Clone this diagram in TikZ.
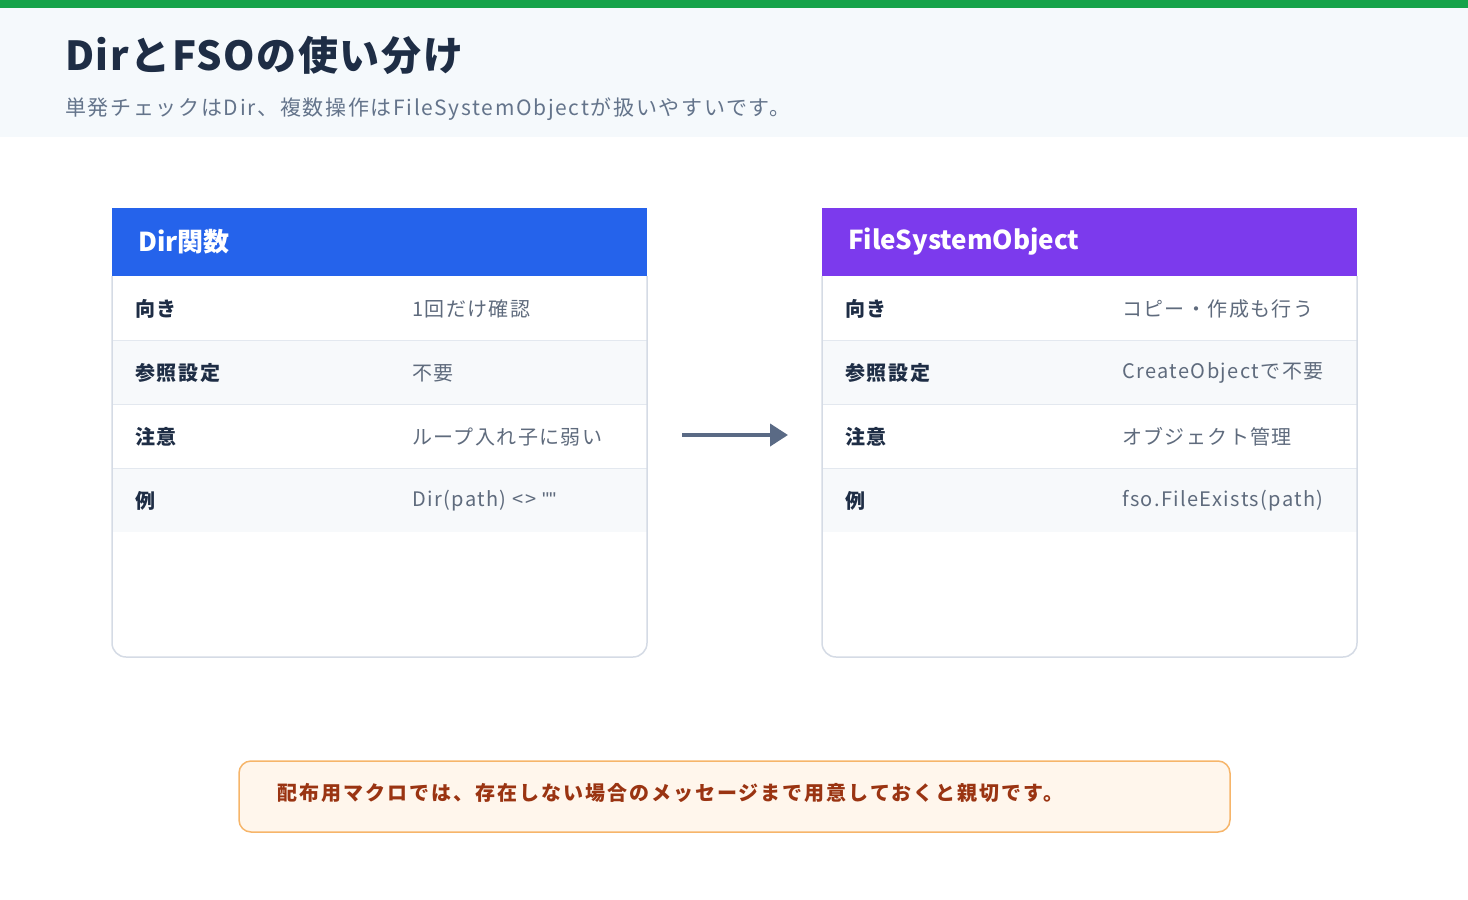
\documentclass[tikz,border=0pt]{standalone}
\usepackage{fontspec}
\setmainfont{Noto Sans CJK JP}
\newfontfamily\qfont{Liberation Sans}
\usetikzlibrary{arrows.meta}
\definecolor{green}{HTML}{16A34A}
\definecolor{hdr}{HTML}{F5F9FC}
\definecolor{navy}{HTML}{1E2D45}
\definecolor{sub}{HTML}{64748B}
\definecolor{blue}{HTML}{2563EB}
\definecolor{purple}{HTML}{7C3AED}
\definecolor{rowalt}{HTML}{F7F9FB}
\definecolor{cardb}{HTML}{D5DBE5}
\definecolor{sep}{HTML}{E3E8EF}
\definecolor{arr}{HTML}{5A6A85}
\definecolor{notef}{HTML}{FFF6EC}
\definecolor{noted}{HTML}{F6B56A}
\definecolor{notet}{HTML}{9A3412}
\definecolor{val}{HTML}{5F6B7D}
\tikzset{
 lbl/.style={anchor=west,font=\fontsize{20}{24}\selectfont\bfseries\addfontfeatures{LetterSpace=9},text=navy,inner sep=0},
 valtxt/.style={anchor=west,font=\fontsize{20}{24}\selectfont\addfontfeatures{LetterSpace=7},text=val,inner sep=0},
 head/.style={anchor=west,font=\fontsize{26}{30}\selectfont\bfseries,text=white,inner sep=0},
}
\begin{document}
\begin{tikzpicture}[x=1pt,y=-1pt]
\useasboundingbox (0,0) rectangle (1468,900);
\fill[hdr] (0,8) rectangle (1468,137);
\fill[green] (0,0) rectangle (1468,8);
\node[anchor=base west,inner sep=0,font=\fontsize{40}{44}\selectfont\bfseries\addfontfeatures{LetterSpace=4},text=navy] (title) at (65,70) {DirとFSOの使い分け};
\node[anchor=west,inner sep=0,font=\fontsize{21}{25}\selectfont\addfontfeatures{LetterSpace=8},text=sub] (subt) at (65,109) {単発チェックはDir、複数操作はFileSystemObjectが扱いやすいです。};
% cards
\foreach \x/\c/\n in {112/blue/L,822/purple/R}{
 \fill[white] (\x,276) rectangle (\x+535,657);
 \fill[rowalt] (\x,340) rectangle (\x+535,404);
 \fill[rowalt] (\x,468) rectangle (\x+535,532);
 \foreach \yy in {340,404,468} \draw[sep,line width=1pt] (\x,\yy) -- (\x+535,\yy);
 \draw[cardb,line width=1.5pt,rounded corners=14] (\x,276) -- (\x,657) -- (\x+535,657) -- (\x+535,276);
 \fill[\c] (\x,208) rectangle (\x+535,276);
}
\node[head] (lh) at (138,242) {Dir関数};
\node[head] (rh) at (848,242) {FileSystemObject};
\node[lbl] (l1) at (135,309) {向き};
\node[lbl] (l2) at (135,373) {参照設定};
\node[lbl] (l3) at (135,437) {注意};
\node[lbl] (l4) at (135,501) {例};
\node[valtxt] (lv1) at (412,309) {1回だけ確認};
\node[valtxt] (lv2) at (412,373) {不要};
\node[valtxt] (lv3) at (412,437) {ループ入れ子に弱い};
\node[valtxt] (lv4) at (412,501) {Dir(path) <> {\qfont\symbol{34}\symbol{34}}};
\node[lbl] (r1) at (845,309) {向き};
\node[lbl] (r2) at (845,373) {参照設定};
\node[lbl] (r3) at (845,437) {注意};
\node[lbl] (r4) at (845,501) {例};
\node[valtxt] (rv1) at (1122,309) {コピー・作成も行う};
\node[valtxt] (rv2) at (1122,373) {CreateObjectで不要};
\node[valtxt] (rv3) at (1122,437) {オブジェクト管理};
\node[valtxt] (rv4) at (1122,501) {fso.FileExists(path)};
\coordinate (a1) at (682,435);
\coordinate (a2) at (788,435);
\draw[arr,line width=4pt,-{Triangle[length=18pt,width=22pt]}] (a1) -- (a2);
\draw[noted,fill=notef,line width=1.5pt,rounded corners=12] (239,761) rectangle (1230,832);
\node[anchor=west,inner sep=0,font=\fontsize{20}{24}\selectfont\bfseries\addfontfeatures{LetterSpace=10},text=notet] (note) at (277,793) {配布用マクロでは、存在しない場合のメッセージまで用意しておくと親切です。};
\end{tikzpicture}
\end{document}
